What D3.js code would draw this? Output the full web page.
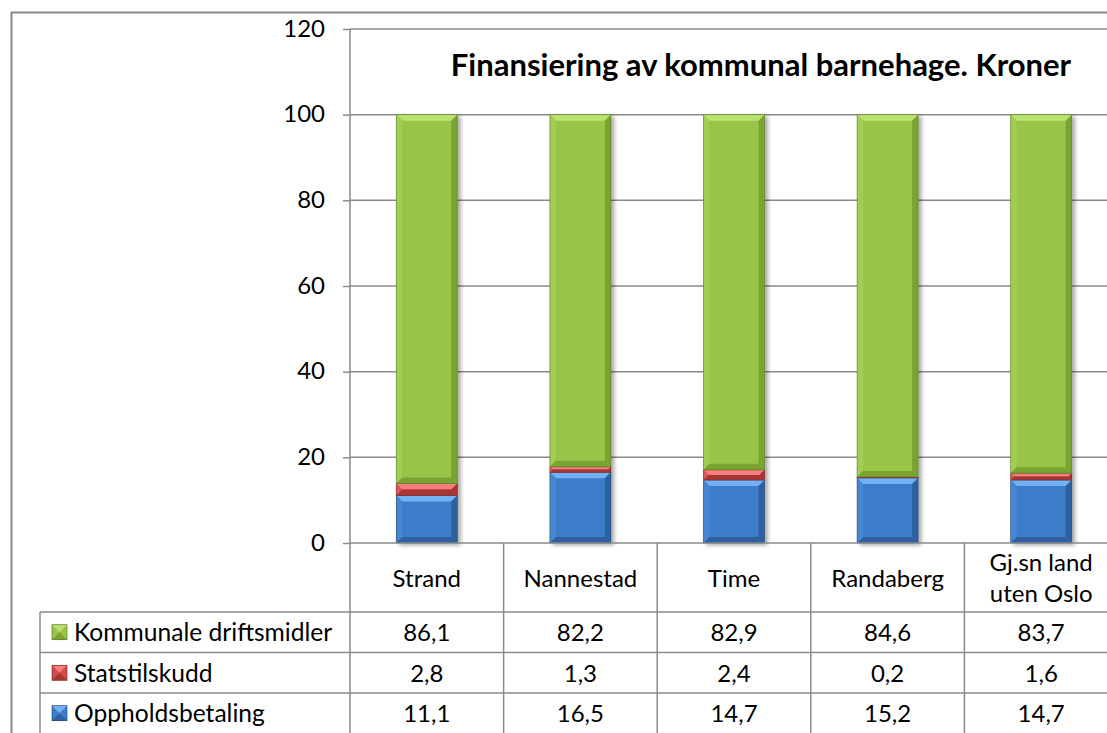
<!DOCTYPE html>
<html>
<head>
<meta charset="utf-8">
<script src="https://cdn.jsdelivr.net/npm/d3@7"></script>
<style>
  html, body { margin: 0; padding: 0; background: #fff; }
  svg { display: block; font-family: Lato, "Open Sans", sans-serif; }
</style>
</head>
<body>
<svg id="chart" width="1107" height="733"></svg>
<script>
// Municipal kindergarten financing, share in kroner per 100
const categories = ["Strand", "Nannestad", "Time", "Randaberg", "Gj.sn land\nuten Oslo"];
const seriesNames = ["Oppholdsbetaling", "Statstilskudd", "Kommunale driftsmidler"];
const oppholdsbetaling = [11.1, 16.5, 14.7, 15.2, 14.7];
const statstilskudd = [2.8, 1.3, 2.4, 0.2, 1.6];
const kommunaleDriftsmidler = [86.1, 82.2, 82.9, 84.6, 83.7];
const yTicks = [0, 20, 40, 60, 80, 100, 120];
const title = "Finansiering av kommunal barnehage. Kroner";

const seriesValues = [oppholdsbetaling, statstilskudd, kommunaleDriftsmidler];
const palette = {
  "Oppholdsbetaling":      { base: "#3c7cc8", light: "#72b2f4", side: "#4787d2", dark: "#2d619f", edge: "#1f3f66" },
  "Statstilskudd":         { base: "#d4494a", light: "#f47f7c", side: "#dc5656", dark: "#a83536", edge: "#6e2222" },
  "Kommunale driftsmidler":{ base: "#98c548", light: "#bae26e", side: "#a1cd52", dark: "#7aa332", edge: "#4f6b1f" }
};

const svg = d3.select("#chart");
const fmt = v => d3.format(".1f")(v).replace(".", ",");
const textSize = 24.6;

// layout
const plotLeft = 350, plotRight = 1118, plotTop = 29, plotBottom = 543;
const headerBottom = 612, rowH = 40.5, tableLeft = 40;
const gridColor = "#8a8a8a";

const x = d3.scaleBand().domain(categories).range([plotLeft, plotRight]).paddingInner(0).paddingOuter(0);
const y = d3.scaleLinear().domain([0, 120]).range([plotBottom, plotTop]);
const barW = 61;

// outer frame
svg.append("path")
  .attr("d", `M11.5,740 V12.5 H1120`)
  .attr("fill", "none").attr("stroke", gridColor).attr("stroke-width", 2);

// title
svg.append("text")
  .attr("x", 761).attr("y", 76)
  .attr("text-anchor", "middle")
  .attr("font-weight", "bold").attr("font-size", 31)
  .text(title);

// gridlines
svg.append("g").selectAll("line")
  .data(yTicks.filter(d => d > 0))
  .join("line")
  .attr("x1", plotLeft).attr("x2", plotRight)
  .attr("y1", d => y(d)).attr("y2", d => y(d))
  .attr("stroke", gridColor).attr("stroke-width", 1.5);

// y axis
const yAxis = d3.axisLeft(y).tickValues(yTicks).tickSize(7).tickPadding(18).tickFormat(d3.format("d"));
const ya = svg.append("g").attr("transform", `translate(${plotLeft},0)`).call(yAxis);
ya.select(".domain").remove();
ya.selectAll(".tick line").attr("stroke", gridColor).attr("stroke-width", 1.5);
ya.selectAll(".tick text").attr("font-size", 24).attr("fill", "#000").attr("font-family", "Lato").attr("dy", "0.3em");

// shadow filter
const defs = svg.append("defs");
const f = defs.append("filter").attr("id", "shadow").attr("x", "-20%").attr("y", "-5%").attr("width", "140%").attr("height", "110%");
f.append("feGaussianBlur").attr("in", "SourceAlpha").attr("stdDeviation", 2.2).attr("result", "b");
f.append("feOffset").attr("in", "b").attr("dx", 3).attr("dy", 2).attr("result", "o");
f.append("feComponentTransfer").attr("in", "o").attr("result", "s")
  .append("feFuncA").attr("type", "linear").attr("slope", 0.35);
const m = f.append("feMerge");
m.append("feMergeNode").attr("in", "s");
m.append("feMergeNode").attr("in", "SourceGraphic");

// stacked bars
const rows = categories.map((c, i) => {
  const o = { cat: c };
  seriesNames.forEach((s, k) => o[s] = seriesValues[k][i]);
  return o;
});
const stacked = d3.stack().keys(seriesNames)(rows);

const barsG = svg.append("g");
categories.forEach((c, i) => {
  const g = barsG.append("g").attr("filter", "url(#shadow)");
  const x0 = x(c) + (x.bandwidth() - barW) / 2;
  stacked.forEach(layer => {
    const d = layer[i];
    const col = palette[layer.key];
    const yt = y(d[1]), yb = y(d[0]);
    const h = yb - yt;
    if (h <= 0) return;
    const x1 = x0 + barW;
    g.append("rect").attr("x", x0).attr("y", yt).attr("width", barW).attr("height", h).attr("fill", col.base);
    const b = Math.min(6, h / 2);
    // top bevel
    g.append("path").attr("d", `M${x0},${yt} H${x1} L${x1 - b},${yt + b} H${x0 + b} Z`).attr("fill", col.light);
    // left bevel
    g.append("path").attr("d", `M${x0},${yt} L${x0 + b},${yt + b} V${yb - b} L${x0},${yb} Z`).attr("fill", col.side);
    // right bevel
    g.append("path").attr("d", `M${x1},${yt} L${x1 - b},${yt + b} V${yb - b} L${x1},${yb} Z`).attr("fill", col.dark);
    // bottom bevel
    g.append("path").attr("d", `M${x0},${yb} L${x0 + b},${yb - b} H${x1 - b} L${x1},${yb} Z`).attr("fill", col.dark);
    g.append("rect").attr("x", x0).attr("y", yt).attr("width", barW).attr("height", h)
      .attr("fill", "none").attr("stroke", col.edge).attr("stroke-width", 0.8).attr("stroke-opacity", 0.6);
  });
});

// baseline
svg.append("line").attr("x1", plotLeft).attr("x2", plotRight).attr("y1", plotBottom).attr("y2", plotBottom)
  .attr("stroke", gridColor).attr("stroke-width", 1.5);

// data table
const tbl = svg.append("g").attr("stroke", gridColor).attr("stroke-width", 1.5);
// vertical y axis line continuing through table
tbl.append("line").attr("x1", plotLeft).attr("x2", plotLeft).attr("y1", plotTop).attr("y2", 740);
// category separators
categories.slice(1).forEach(c => {
  tbl.append("line").attr("x1", x(c)).attr("x2", x(c)).attr("y1", plotBottom).attr("y2", 740);
});
// left border of legend column
tbl.append("line").attr("x1", tableLeft).attr("x2", tableLeft).attr("y1", headerBottom).attr("y2", 740);
// row lines
[0, 1, 2].forEach(r => {
  const yy = headerBottom + r * rowH;
  tbl.append("line").attr("x1", tableLeft).attr("x2", plotRight).attr("y1", yy).attr("y2", yy);
});

// category labels
categories.forEach(c => {
  const lines = c.split("\n");
  const cx = x(c) + x.bandwidth() / 2;
  const cy = (plotBottom + headerBottom) / 2;
  const t = svg.append("text").attr("text-anchor", "middle").attr("font-size", 24);
  lines.forEach((ln, k) => {
    t.append("tspan").attr("x", cx)
      .attr("y", cy + (k - (lines.length - 1) / 2) * 31 + 9)
      .text(ln);
  });
});

// table rows: top = Kommunale, then Statstilskudd, then Oppholdsbetaling
const tableOrder = [2, 1, 0];
tableOrder.forEach((k, r) => {
  const name = seriesNames[k];
  const col = palette[name];
  const cy = headerBottom + r * rowH + rowH / 2;
  // legend key with bevel
  const kx = 52, ks = 15, ky = cy - ks / 2;
  const kg = svg.append("g");
  kg.append("rect").attr("x", kx).attr("y", ky).attr("width", ks).attr("height", ks).attr("fill", col.base);
  kg.append("path").attr("d", `M${kx},${ky} H${kx + ks} L${kx + ks / 2},${ky + ks / 2} Z`).attr("fill", col.light);
  kg.append("path").attr("d", `M${kx},${ky + ks} H${kx + ks} L${kx + ks / 2},${ky + ks / 2} Z`).attr("fill", col.dark);
  kg.append("rect").attr("x", kx).attr("y", ky).attr("width", ks).attr("height", ks)
    .attr("fill", "none").attr("stroke", col.edge).attr("stroke-width", 0.6);
  svg.append("text").attr("x", 74).attr("y", cy + 9).attr("font-size", textSize).text(name);
  categories.forEach((c, i) => {
    svg.append("text").attr("x", x(c) + x.bandwidth() / 2).attr("y", cy + 9)
      .attr("text-anchor", "middle").attr("font-size", 24).text(fmt(seriesValues[k][i]));
  });
});
</script>
</body>
</html>
